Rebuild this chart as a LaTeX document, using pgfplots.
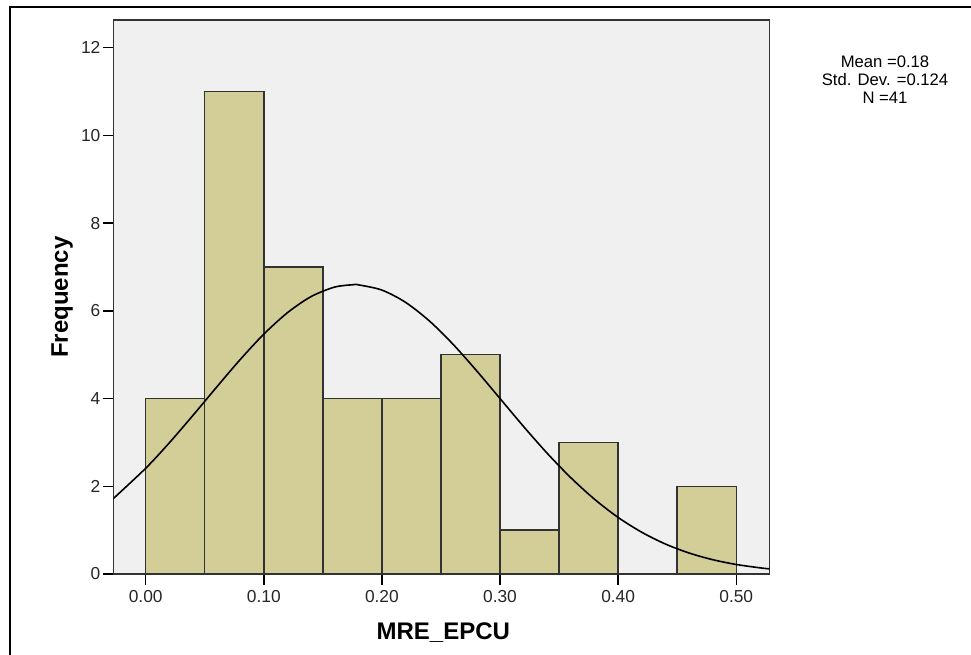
\documentclass[border=0pt]{standalone}
\usepackage{fontspec}
\setmainfont{Liberation Sans}
\usepackage{pgfplots}
\pgfplotsset{compat=1.18}
\definecolor{barc}{RGB}{211,206,152}
\definecolor{bgc}{RGB}{240,240,240}
\definecolor{barline}{RGB}{50,50,50}
\begin{document}
\begin{tikzpicture}[x=0.75pt,y=0.75pt]
\useasboundingbox (0,0) rectangle (971,654);
\draw[line width=1.6pt,black] (10,-2) -- (10,647) -- (973,647);
\begin{axis}[
  at={(84.975pt,60pt)}, anchor=south west,
  scale only axis, width=492pt, height=415.5pt,
  xmin=-0.0274, xmax=0.528, ymin=0, ymax=12.63,
  axis background/.style={fill=bgc},
  axis line style={draw=black!80, line width=1.2pt},
  xtick={0,0.1,0.2,0.3,0.4,0.5},
  ytick={0,2,4,6,8,10,12},
  xtick pos=bottom, ytick pos=left,
  tick align=outside,
  major tick length=8pt,
  tick style={black, line width=1.1pt},
  /pgf/number format/assume math mode=true,
  ticklabel style={font=\fontsize{13}{15}\selectfont, inner sep=1.5pt, text=black!85},
  xticklabel style={yshift=-2.5pt, /pgf/number format/.cd, fixed, fixed zerofill, precision=2},
  xlabel={MRE\_EPCU}, ylabel={Frequency},
  label style={font=\fontsize{18}{21}\selectfont\bfseries},
  xlabel style={at={(axis description cs:0.503,-0.1065)}, anchor=center},
  ylabel style={at={(axis description cs:-0.078,0.5)}, anchor=center},
  clip=true,
]
\addplot[ybar, bar width=0.05, fill=barc, draw=barline, line width=1.1pt]
  coordinates {(0.025,4) (0.075,11) (0.125,7) (0.175,4) (0.225,4) (0.275,5) (0.325,1) (0.375,3) (0.475,2)};
\addplot[smooth, black, line width=1.2pt, mark=none] coordinates {
(-0.028,1.704) (0.00,2.410) (0.02,2.990) (0.04,3.615) (0.06,4.258) (0.08,4.888)
(0.10,5.467) (0.12,5.956) (0.14,6.324) (0.16,6.541) (0.176,6.596) (0.18,6.593)
(0.20,6.473) (0.22,6.194) (0.24,5.774) (0.26,5.244) (0.28,4.640) (0.30,4.001)
(0.32,3.361) (0.34,2.751) (0.36,2.194) (0.38,1.705) (0.40,1.290) (0.42,0.952)
(0.44,0.684) (0.46,0.479) (0.48,0.327) (0.50,0.217) (0.52,0.141) (0.528,0.117)};
\end{axis}
\node[align=center, font=\fontsize{12.5}{13.5}\selectfont, inner sep=0pt] at (885,574) {Mean =0.18\\Std. Dev. =0.124\\N =41};
\end{tikzpicture}
\end{document}
